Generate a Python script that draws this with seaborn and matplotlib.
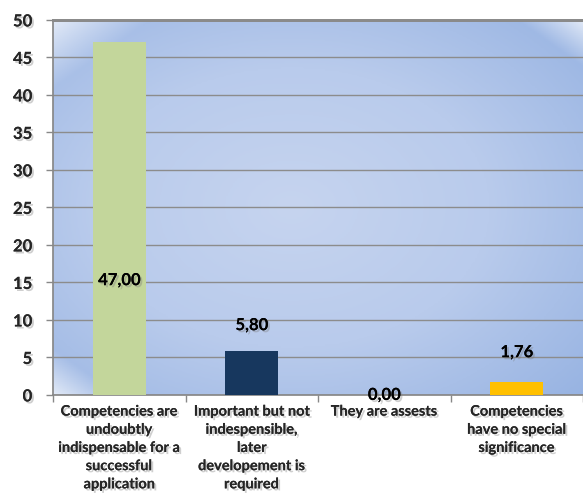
import numpy as np
import pandas as pd
import matplotlib
matplotlib.use("Agg")
import matplotlib.pyplot as plt
import matplotlib.patheffects as pe
from matplotlib.colors import LinearSegmentedColormap
import seaborn as sns

# Data
categories = [
    "Competencies are\nundoubtly\nindispensable for a\nsuccessful\napplication",
    "Important but not\nindespensible,\nlater\ndevelopement is\nrequired",
    "They are assests",
    "Competencies\nhave no special\nsignificance",
]
values = [47.00, 5.80, 0.00, 1.76]
value_labels = ["47,00", "5,80", "0,00", "1,76"]
label_heights = [15.3, 9.3, 0.0, 5.7]
bar_colors = ["#c3d69b", "#17375e", "#1f4e8c", "#ffc000"]

df = pd.DataFrame({"category": categories, "value": values})

sns.set_theme(style="white")
plt.rcParams['font.family'] = ['Lato', 'DejaVu Sans']

fig = plt.figure(figsize=(5.83, 4.98), dpi=100)
ax = fig.add_axes([0.091, 0.207, 0.909, 0.753])

# Gradient background for the plot area
ny, nx = 200, 300
yy, xx = np.mgrid[0:1:ny * 1j, 0:1:nx * 1j]
r = np.sqrt(((xx - 0.45) / 0.75) ** 2 + ((yy - 0.5) / 0.75) ** 2)
bg_cmap = LinearSegmentedColormap.from_list("bg", ["#c6d4ef", "#b9cbec", "#97b3e2"])
img = bg_cmap(np.clip(r, 0, 1))
# glossy corners
tl = np.clip(1 - (xx + (1 - yy)) / 0.18, 0, 1)
tr = np.clip(1 - ((1 - xx) + (1 - yy)) / 0.12, 0, 1)
bl = np.clip(1 - (xx + yy) / 0.12, 0, 1)
glow = np.clip(tl + tr + bl, 0, 1)[..., None]
img[..., :3] = img[..., :3] * (1 - 0.7 * glow) + 0.7 * glow
ax.imshow(img, extent=[-0.5, 3.5, 0, 50], origin="lower", aspect="auto", zorder=0)

sns.barplot(data=df, x="category", y="value", hue="category", palette=bar_colors,
            width=0.4, legend=False, ax=ax, zorder=3, saturation=1, linewidth=0)

ax.set_xlim(-0.5, 3.5)
ax.set_ylim(0, 50)
ax.set_yticks(range(0, 51, 5))
ax.yaxis.grid(True, color="#8c8c8c", linewidth=1.0, zorder=1)
ax.set_axisbelow(True)
ax.set_xlabel("")
ax.set_ylabel("")

shadow = [pe.withSimplePatchShadow(offset=(1.5, -1.5), shadow_rgbFace="#777777", alpha=0.35), pe.Normal()]

for lbl in ax.get_yticklabels():
    lbl.set_fontweight("bold")
    lbl.set_fontsize(12)
    lbl.set_path_effects(shadow)
ax.tick_params(axis="y", length=5, width=1, color="#888888", pad=10, left=True)

ax.set_xticks(range(len(categories)))
ax.set_xticklabels(categories, fontsize=10.5, fontweight="bold", linespacing=1.38)
for lbl in ax.get_xticklabels():
    lbl.set_path_effects(shadow)
ax.tick_params(axis="x", length=0, pad=7)
ax.set_xticks(np.arange(-0.5, 3.6, 1.0), minor=True)
ax.tick_params(axis="x", which="minor", length=5, width=1, color="#888888", bottom=True)

for i, (txt, h) in enumerate(zip(value_labels, label_heights)):
    ax.text(i, h, txt, ha="center", va="center", fontsize=12, fontweight="bold",
            color="black", zorder=5, path_effects=shadow)

ax.spines["right"].set_visible(False)
ax.spines["left"].set_color("#888888")
ax.spines["bottom"].set_color("#888888")
ax.spines["top"].set_color("#8a8a8a")
ax.spines["top"].set_linewidth(2)
ax.spines["top"].set_path_effects([pe.withSimplePatchShadow(offset=(0, 2), shadow_rgbFace="#999999", alpha=0.4), pe.Normal()])

fig.savefig("out.png", dpi=100, facecolor="white")
